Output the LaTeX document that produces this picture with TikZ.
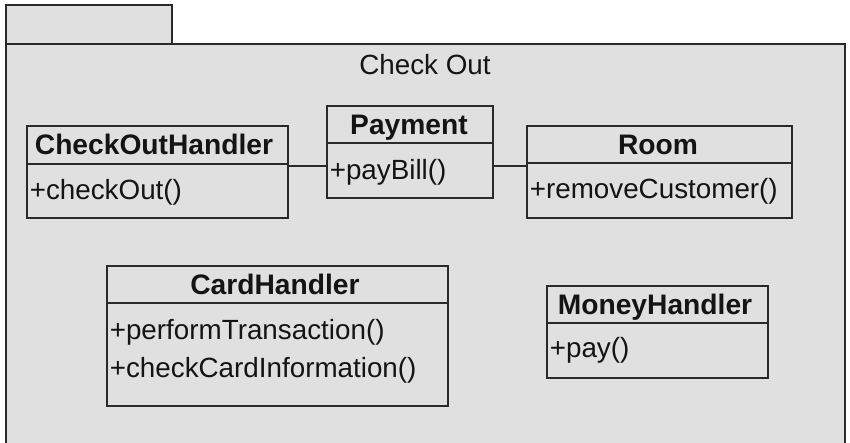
\documentclass[tikz,border=0pt]{standalone}
\usepackage{fontspec}
\setmainfont{Liberation Sans}
\definecolor{pkgfill}{HTML}{E0E0E0}
\definecolor{linec}{HTML}{2A2A2A}
\definecolor{txtc}{HTML}{141414}
\begin{document}
\begin{tikzpicture}[x=1pt,y=-1pt,line width=1.6pt,
  box/.style={draw=linec, fill=pkgfill, inner sep=0pt, anchor=north west},
  ttl/.style={font=\fontsize{28.2}{32}\selectfont\bfseries, text=txtc, inner sep=0pt, anchor=base},
  mth/.style={font=\fontsize{27.8}{32}\selectfont, text=txtc, inner sep=0pt, anchor=base west},
  divl/.style={draw=linec, line width=1.6pt},
  conn/.style={draw=linec, line width=1.6pt}]
\useasboundingbox (0,0) rectangle (850,442);
\clip (0,0) rectangle (850,442);
% package
\fill[white] (0,0) rectangle (850,442);
\coordinate (pkgA) at (6,5);
\coordinate (pkgB) at (172,44);
\coordinate (pkgC) at (845,448);
\filldraw[fill=pkgfill, draw=linec] (pkgA) rectangle (pkgB);
\fill[pkgfill] (6,44) rectangle (pkgC);
\draw[linec] (6,448) -- (6,44) -- (845,44) -- (pkgC);
\node[font=\fontsize{27.8}{32}\selectfont, text=txtc, inner sep=0pt, anchor=base] (pkgT) at (425,74) {Check Out};
% CheckOutHandler
\node[box, minimum width=261pt, minimum height=92pt] (cho) at (26,125) {};
\draw[divl] (cho.west |- 0,164) -- (cho.east |- 0,164);
\node[ttl] (choT) at (154,154) {CheckOutHandler};
\node[mth] (choM) at (29,199) {+checkOut()};
% Payment
\node[box, minimum width=166pt, minimum height=92pt] (pay) at (326,105) {};
\draw[divl] (pay.west |- 0,143) -- (pay.east |- 0,143);
\node[ttl] (payT) at (409,134) {Payment};
\node[mth] (payM) at (329,179) {+payBill()};
% Room
\node[box, minimum width=265pt, minimum height=92pt] (room) at (526,125) {};
\draw[divl] (room.west |- 0,163) -- (room.east |- 0,163);
\node[ttl] (roomT) at (658,154) {Room};
\node[mth] (roomM) at (529,198) {+removeCustomer()};
% CardHandler
\node[box, minimum width=341pt, minimum height=140pt] (card) at (106,265) {};
\draw[divl] (card.west |- 0,303) -- (card.east |- 0,303);
\node[ttl] (cardT) at (275,294) {CardHandler};
\node[mth] (cardM1) at (109,339) {+performTransaction()};
\node[mth] (cardM2) at (109,377) {+checkCardInformation()};
% MoneyHandler
\node[box, minimum width=221pt, minimum height=92pt] (money) at (546,285) {};
\draw[divl] (money.west |- 0,323) -- (money.east |- 0,323);
\node[ttl] (moneyT) at (655,314) {MoneyHandler};
\node[mth] (moneyM) at (549,357) {+pay()};
% connectors
\draw[conn] ([yshift=6pt]cho.east) -- ([yshift=-14pt]pay.west);
\draw[conn] ([yshift=-14pt]pay.east) -- ([yshift=6pt]room.west);
\end{tikzpicture}
\end{document}
